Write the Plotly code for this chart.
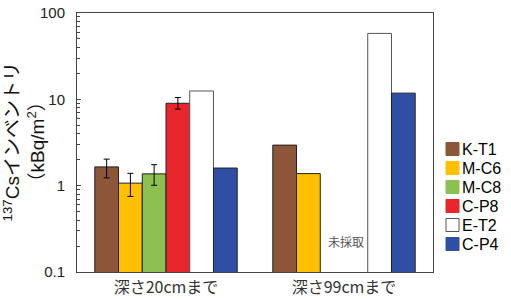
import plotly.graph_objects as go

categories = ["深さ20cmまで", "深さ99cmまで"]
series = ["K-T1", "M-C6", "M-C8", "C-P8", "E-T2", "C-P4"]
values = {
    "K-T1": [1.65, 2.95],
    "M-C6": [1.07, 1.38],
    "M-C8": [1.37, None],
    "C-P8": [9.0, None],
    "E-T2": [12.5, 58],
    "C-P4": [1.6, 11.8],
}
# error bars only measured for the 20cm group
err_plus = {"K-T1": [0.38], "M-C6": [0.32], "M-C8": [0.38], "C-P8": [1.5]}
err_minus = {"K-T1": [0.42], "M-C6": [0.32], "M-C8": [0.36], "C-P8": [1.3]}
colors = {
    "K-T1": "#8E5638",
    "M-C6": "#FFC000",
    "M-C8": "#8CC152",
    "C-P8": "#E8262B",
    "E-T2": "#FFFFFF",
    "C-P4": "#2E4FA3",
}
line_colors = {"E-T2": "#555555"}
y_tickvals = [0.1, 1, 10, 100]
y_ticktext = ["0.1", "1", "10", "100"]
y_minor = [m * d for d in (0.1, 1, 10) for m in range(2, 10)]
not_sampled = "未採取"
y_title = "<sup>137</sup>Csインベントリ<br>（kBq/m<sup>2</sup>）"

font_fam = "Liberation Sans, Arial, Noto Sans CJK JP, sans-serif"
jp_fam = "Noto Sans CJK JP, sans-serif"

L, R, T, B = 77, 78, 13, 27
W, H = 511, 299
pw, ph = W - L - R, H - T - B

def px_x(x):
    return (x - L) / pw

def px_y(y):
    return (H - B - y) / ph

fig = go.Figure()
for s in series:
    kw = {}
    if s in err_plus:
        kw["error_y"] = dict(type="data", symmetric=False, array=err_plus[s],
                             arrayminus=err_minus[s], color="black", thickness=1, width=3)
    fig.add_trace(go.Bar(
        name=s, x=categories, y=values[s], showlegend=False,
        marker=dict(color=colors[s], line=dict(color=line_colors.get(s, "#222222"), width=1)),
        **kw))

# manual legend
for i, s in enumerate(series):
    cy = 149 + 19 * i
    fig.add_shape(type="rect", xref="paper", yref="paper",
                  x0=px_x(446), x1=px_x(459), y0=px_y(cy + 6.5), y1=px_y(cy - 6.5),
                  fillcolor=colors[s], line=dict(color=line_colors.get(s, colors[s]), width=1))
    fig.add_annotation(text=s, xref="paper", yref="paper", x=px_x(460), y=px_y(cy),
                       xanchor="left", yanchor="middle", showarrow=False,
                       font=dict(size=16, family=font_fam, color="black"))

fig.add_annotation(text=not_sampled, x=px_x(346), xref="paper", y=px_y(241), yref="paper",
                   xanchor="center", yanchor="middle",
                   showarrow=False, font=dict(size=12, color="#555555", family=jp_fam))

fig.add_annotation(text=y_title, x=px_x(24), xref="paper", y=0.5, yref="paper",
                   textangle=-90, showarrow=False, xanchor="center", yanchor="middle",
                   font=dict(size=19, family=font_fam, color="#111111"))

fig.update_layout(
    width=W, height=H,
    margin=dict(l=L, r=R, t=T, b=B, autoexpand=False),
    barmode="group", bargap=0.2, bargroupgap=0,
    plot_bgcolor="white", paper_bgcolor="white",
    font=dict(family=font_fam, size=14, color="black"),
    showlegend=False,
)
fig.update_xaxes(showline=True, linecolor="#444444", linewidth=1, mirror=True,
                 ticks="", ticklabelstandoff=1,
                 tickfont=dict(size=16, family=jp_fam, color="#333333"))
fig.update_yaxes(type="log", range=[-1, 2], showline=True, linecolor="#444444", linewidth=1,
                 mirror=True, showgrid=False, ticks="inside", ticklen=4, tickcolor="#444444",
                 tickvals=y_tickvals, ticktext=y_ticktext, ticklabelstandoff=8,
                 minor=dict(ticks="inside", ticklen=3, tickcolor="#444444", showgrid=False,
                            tickvals=y_minor),
                 tickfont=dict(size=15, color="#222222"))

fig.write_html("out.html")
